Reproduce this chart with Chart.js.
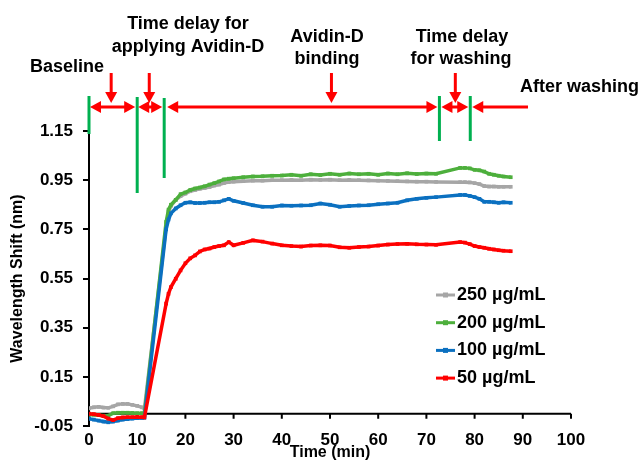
<!DOCTYPE html>
<html>
<head>
<meta charset="utf-8">
<script src="https://cdn.jsdelivr.net/npm/chart.js@4.4.1/dist/chart.umd.min.js"></script>
<style>
  html, body { margin: 0; padding: 0; background: #fff; }
</style>
</head>
<body>
<canvas id="myChart" width="639" height="464"></canvas>
<script>
// time points (min)
const timeMin = [
  0, 1, 2, 3, 4, 5, 6, 7, 8, 9, 10, 11, 11.5,
  16, 16.5, 17, 18, 19, 20, 21, 22, 23, 24, 25, 26, 27, 28, 29, 30,
  32, 34, 36, 38, 40, 42, 44, 46, 48, 50, 52, 54, 56, 58, 60, 62, 64, 66, 68, 70, 72,
  77, 78, 79, 80, 81, 82, 83, 84, 85, 86, 87.5
];

// wavelength shift (nm) for each concentration
const shift250 = [
  0.022, 0.026, 0.028, 0.025, 0.024, 0.030, 0.038, 0.040, 0.040, 0.036, 0.032, 0.026, 0.020,
  0.760, 0.820, 0.845, 0.870, 0.885, 0.895, 0.905, 0.910, 0.915, 0.918, 0.922, 0.928, 0.932, 0.938, 0.942, 0.944,
  0.946, 0.948, 0.948, 0.950, 0.950, 0.951, 0.950, 0.952, 0.951, 0.952, 0.950, 0.951, 0.950, 0.949, 0.948, 0.947, 0.946, 0.945, 0.944, 0.944, 0.943,
  0.942, 0.942, 0.941, 0.938, 0.934, 0.926, 0.924, 0.924, 0.923, 0.923, 0.923
];
const shift200 = [
  -0.004, -0.004, -0.006, -0.008, -0.008, 0.002, 0.004, 0.004, 0.004, 0.003, 0.002, 0.002, 0.000,
  0.780, 0.830, 0.850, 0.870, 0.893, 0.900, 0.910, 0.916, 0.920, 0.925, 0.932, 0.938, 0.945, 0.953, 0.956, 0.958,
  0.962, 0.965, 0.966, 0.968, 0.969, 0.972, 0.968, 0.974, 0.971, 0.976, 0.972, 0.977, 0.974, 0.976, 0.972, 0.977, 0.974, 0.978, 0.975, 0.977, 0.976,
  1.000, 1.000, 0.998, 0.992, 0.990, 0.985, 0.976, 0.972, 0.968, 0.965, 0.962
];
const shift100 = [
  -0.020, -0.024, -0.028, -0.032, -0.035, -0.032, -0.028, -0.024, -0.022, -0.020, -0.018, -0.017, -0.016,
  0.750, 0.790, 0.815, 0.835, 0.848, 0.858, 0.860, 0.857, 0.857, 0.858, 0.860, 0.860, 0.862, 0.868, 0.874, 0.866,
  0.857, 0.848, 0.842, 0.842, 0.847, 0.846, 0.847, 0.848, 0.855, 0.850, 0.842, 0.845, 0.847, 0.848, 0.852, 0.855, 0.858, 0.868, 0.874, 0.878, 0.881,
  0.890, 0.890, 0.886, 0.881, 0.874, 0.862, 0.862, 0.860, 0.858, 0.860, 0.858
];
const shift50 = [
  0.000, -0.002, -0.005, -0.010, -0.020, -0.026, -0.018, -0.015, -0.014, -0.014, -0.013, -0.014, -0.015,
  0.448, 0.488, 0.515, 0.549, 0.583, 0.612, 0.632, 0.644, 0.660, 0.668, 0.672, 0.678, 0.682, 0.685, 0.698, 0.685,
  0.695, 0.705, 0.700, 0.692, 0.685, 0.682, 0.680, 0.684, 0.685, 0.684, 0.677, 0.675, 0.678, 0.680, 0.684, 0.688, 0.690, 0.691, 0.689, 0.688, 0.687,
  0.698, 0.696, 0.690, 0.682, 0.678, 0.675, 0.671, 0.668, 0.665, 0.663, 0.661
];

const seriesLabels = ['250 µg/mL', '200 µg/mL', '100 µg/mL', '50 µg/mL'];
const seriesValues = [shift250, shift200, shift100, shift50];
const seriesColors = ['#A6A6A6', '#4DAF3C', '#0B70C0', '#FF0000'];

const xTickValues = [0, 10, 20, 30, 40, 50, 60, 70, 80, 90, 100];
const yTickValues = [-0.05, 0.15, 0.35, 0.55, 0.75, 0.95, 1.15];

const FONT = '"Liberation Sans", Arial, sans-serif';

const datasets = seriesValues.map((vals, i) => ({
  label: seriesLabels[i],
  data: vals.map((v, k) => ({ x: timeMin[k], y: v })),
  borderColor: seriesColors[i],
  backgroundColor: seriesColors[i],
  borderWidth: 3.5,
  pointStyle: 'rect',
  pointRadius: 2.6,
  pointBorderWidth: 0,
  tension: 0,
  order: seriesValues.length - i   // 50 µg/mL on top
}));

// x axis line crossing at y = 0
const zeroAxis = {
  id: 'zeroAxis',
  beforeDatasetsDraw(chart) {
    const { ctx, chartArea } = chart;
    const xs = chart.scales.x, ys = chart.scales.y;
    const y0 = ys.getPixelForValue(0);
    ctx.save();
    ctx.strokeStyle = '#000';
    ctx.lineWidth = 2;
    ctx.beginPath();
    ctx.moveTo(chartArea.left, y0);
    ctx.lineTo(chartArea.right, y0);
    xTickValues.forEach(t => {
      const x = xs.getPixelForValue(t);
      ctx.moveTo(x, y0);
      ctx.lineTo(x, y0 + 5);
    });
    ctx.stroke();
    ctx.restore();
  }
};

// legend inside the plot
const insideLegend = {
  id: 'insideLegend',
  afterDraw(chart) {
    const ctx = chart.ctx;
    ctx.save();
    ctx.font = 'bold 18px ' + FONT;
    ctx.textBaseline = 'middle';
    ctx.textAlign = 'left';
    seriesLabels.forEach((lab, i) => {
      const y = 295 + i * 27.7;
      ctx.strokeStyle = seriesColors[i];
      ctx.lineWidth = 3;
      ctx.beginPath();
      ctx.moveTo(436, y);
      ctx.lineTo(455, y);
      ctx.stroke();
      ctx.fillStyle = seriesColors[i];
      ctx.fillRect(443, y - 2.5, 5, 5);
      ctx.fillStyle = '#000';
      ctx.fillText(lab, 457, y);
    });
    ctx.restore();
  }
};

// phase markers, arrows and notes above the plot
const phaseNotes = {
  id: 'phaseNotes',
  afterDraw(chart) {
    const ctx = chart.ctx;
    const px = t => chart.scales.x.getPixelForValue(t);
    ctx.save();

    // green phase boundaries
    ctx.strokeStyle = '#00B050';
    ctx.lineWidth = 3;
    [[0, 96, 134], [10, 97, 193], [15.6, 98, 178], [72.7, 96, 141], [79.1, 96, 141]].forEach(([t, y1, y2]) => {
      ctx.beginPath();
      ctx.moveTo(px(t), y1);
      ctx.lineTo(px(t), y2);
      ctx.stroke();
    });

    ctx.strokeStyle = '#FF0000';
    ctx.fillStyle = '#FF0000';
    ctx.lineWidth = 3;
    const head = (x, y, dir) => {   // dir: -1 left, 1 right
      ctx.beginPath();
      ctx.moveTo(x, y);
      ctx.lineTo(x - dir * 11, y - 6);
      ctx.lineTo(x - dir * 11, y + 6);
      ctx.closePath();
      ctx.fill();
    };
    const hArrow = (x1, x2, y, left, right) => {
      ctx.beginPath();
      ctx.moveTo(x1 + (left ? 6 : 0), y);
      ctx.lineTo(x2 - (right ? 6 : 0), y);
      ctx.stroke();
      if (left) head(x1, y, -1);
      if (right) head(x2, y, 1);
    };
    const yA = 107;
    hArrow(px(0) + 1, px(10) - 2, yA, true, true);
    hArrow(px(10) + 1, px(15.6) - 2, yA, true, true);
    hArrow(px(15.6) + 3, px(72.7) - 2, yA, true, true);
    hArrow(px(72.7) + 2, px(79.1) - 2, yA, true, true);
    hArrow(px(79.1) + 2, 528, yA, true, false);

    // down arrows
    [4.6, 12.5, 50.3, 76].forEach(t => {
      const x = px(t);
      ctx.beginPath();
      ctx.moveTo(x, 73);
      ctx.lineTo(x, 94);
      ctx.stroke();
      ctx.beginPath();
      ctx.moveTo(x, 103);
      ctx.lineTo(x - 6, 92);
      ctx.lineTo(x + 6, 92);
      ctx.closePath();
      ctx.fill();
    });

    // notes
    ctx.fillStyle = '#000';
    ctx.font = 'bold 18px ' + FONT;
    ctx.textBaseline = 'middle';
    ctx.textAlign = 'center';
    ctx.fillText('Baseline', 67, 67);
    ctx.fillText('Time delay for', 188, 24);
    ctx.fillText('applying Avidin-D', 188, 47);
    ctx.fillText('Avidin-D', 327, 37);
    ctx.fillText('binding', 327, 59);
    ctx.fillText('Time delay', 462, 37);
    ctx.fillText('for washing', 461, 59);
    ctx.textAlign = 'left';
    ctx.fillText('After washing', 520, 87);
    ctx.restore();
  }
};

new Chart(document.getElementById('myChart'), {
  type: 'line',
  data: { datasets },
  options: {
    responsive: false,
    animation: false,
    layout: { padding: { top: 131, right: 68, left: 0, bottom: 0 } },
    plugins: { legend: { display: false }, tooltip: { enabled: false } },
    scales: {
      x: {
        type: 'linear',
        min: 0,
        max: 100,
        afterFit: s => { s.height = 38; },
        afterBuildTicks: s => { s.ticks = xTickValues.map(v => ({ value: v })); },
        grid: { display: false, drawTicks: false },
        border: { display: false },
        ticks: { color: '#000', font: { family: FONT, size: 17, weight: 'bold' }, padding: 4, maxRotation: 0 },
        title: { display: true, text: 'Time (min)', color: '#000', font: { family: FONT, size: 16, weight: 'bold' }, padding: { top: 0, bottom: 2 } }
      },
      y: {
        type: 'linear',
        min: -0.05,
        max: 1.15,
        afterFit: s => { s.width = 89; },
        afterBuildTicks: s => { s.ticks = yTickValues.map(v => ({ value: v })); },
        grid: { drawOnChartArea: false, color: '#000', lineWidth: 2, tickLength: 6 },
        border: { color: '#000', width: 2 },
        ticks: { color: '#000', font: { family: FONT, size: 17, weight: 'bold' }, padding: 10, callback: v => v.toFixed(2) },
        title: { display: true, text: 'Wavelength Shift (nm)', color: '#000', font: { family: FONT, size: 16, weight: 'bold' }, padding: { top: 8, bottom: 0 } }
      }
    }
  },
  plugins: [zeroAxis, insideLegend, phaseNotes]
});
</script>
</body>
</html>
